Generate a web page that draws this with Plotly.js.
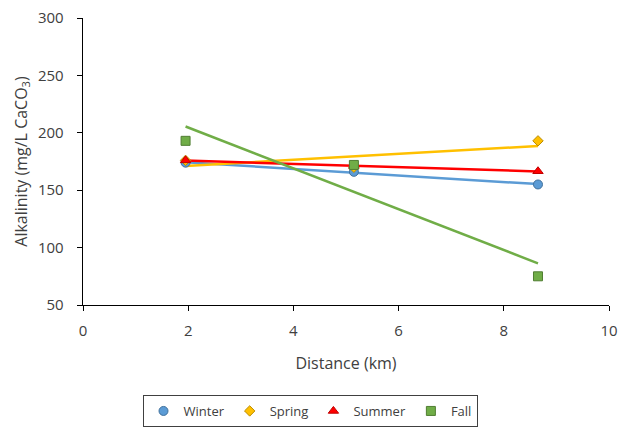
<!DOCTYPE html>
<html><head><meta charset="utf-8">
<script src="https://cdn.plot.ly/plotly-3.0.1.min.js"></script>
<style>html,body{margin:0;padding:0;background:#fff}#chart{width:628px;height:428px}</style>
</head><body><div id="chart"></div>
<script>
const distance = [1.95, 5.15, 8.65];
const winter = [174, 166, 155];
const spring = [176, 170, 193];
const summer = [176, 171, 166.5];
const fall = [193, 172, 75];
const trendX = [1.95, 8.65];
const winterTrend = [174.4, 155.3];
const springTrend = [171.1, 188.5];
const summerTrend = [175.8, 166.3];
const fallTrend = [205.5, 86.3];
const seriesNames = ['Winter', 'Spring', 'Summer', 'Fall'];
const xTicks = [0, 2, 4, 6, 8, 10];
const yTicks = [50, 100, 150, 200, 250, 300];

const colors = ['#5B9BD5', '#FFC000', '#FF0000', '#70AD47'];
const edges = ['#41719C', '#BC8C00', '#C00000', '#507E32'];
const symbols = ['circle', 'diamond', 'triangle-up', 'square'];
const sizes = [9, 8, 9, 9];
const vals = [winter, spring, summer, fall];
const trends = [winterTrend, springTrend, summerTrend, fallTrend];

const traces = [];
for (let i = 0; i < 4; i++) {
  traces.push({x: trendX, y: trends[i], mode: 'lines', showlegend: false, hoverinfo: 'skip',
    line: {color: colors[i], width: 2.5}});
}
for (let i = 0; i < 4; i++) {
  traces.push({x: distance, y: vals[i], mode: 'markers', name: seriesNames[i],
    marker: {symbol: symbols[i], size: sizes[i], color: colors[i], line: {color: edges[i], width: 1}}});
}

const fam = 'Open Sans, Liberation Sans, sans-serif';
const txt = '#404040';
const layout = {
  width: 628, height: 428,
  margin: {l: 83, r: 19, t: 18, b: 123, autoexpand: false},
  paper_bgcolor: '#fff', plot_bgcolor: '#fff',
  font: {family: fam, size: 15, color: txt},
  showlegend: true,
  xaxis: {range: [0, 10], tickvals: xTicks, ticktext: xTicks.map(String), showgrid: false, zeroline: false,
    showline: true, linecolor: '#000', linewidth: 1.3, ticks: 'outside', ticklen: 5, tickcolor: '#000',
    ticklabelstandoff: 7, automargin: false,
    tickfont: {size: 15, color: txt, family: fam},
    title: {text: 'Distance (km)', font: {size: 16, color: txt, family: fam}, standoff: 18}},
  yaxis: {range: [50, 300], tickvals: yTicks, ticktext: yTicks.map(String), showgrid: false, zeroline: false,
    showline: true, linecolor: '#000', linewidth: 1.3, ticks: 'outside', ticklen: 5, tickcolor: '#000',
    ticklabelstandoff: 10, automargin: false,
    tickfont: {size: 15, color: txt, family: fam},
    title: {text: 'Alkalinity (mg/L CaCO<sub>3</sub>)', font: {size: 16, color: txt, family: fam}, standoff: 6}},
  legend: {orientation: 'h', x: 310 / 628, xanchor: 'center', xref: 'container',
    y: 1 - 395 / 428, yanchor: 'top', yref: 'container',
    bordercolor: '#404040', borderwidth: 1, font: {size: 13, color: txt, family: fam},
    itemwidth: 30, tracegroupgap: 0}
};
Plotly.newPlot('chart', traces, layout, {displayModeBar: false, staticPlot: true});
</script></body></html>
